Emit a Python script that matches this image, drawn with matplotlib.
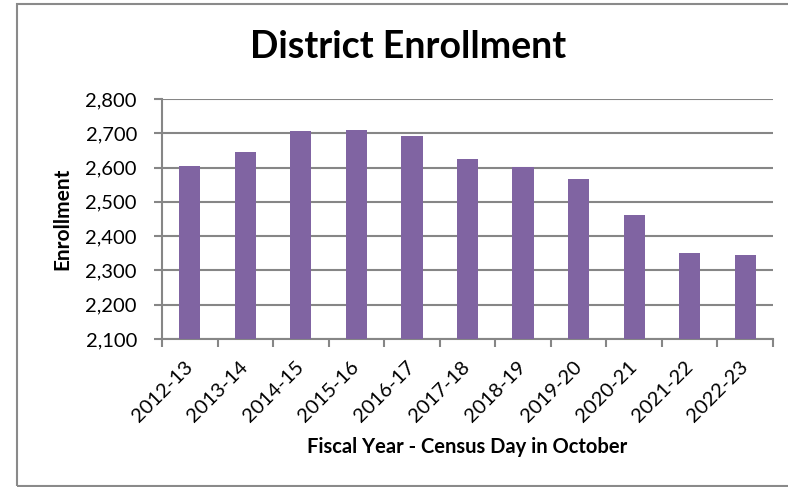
import matplotlib.pyplot as plt
from matplotlib.patches import Rectangle
from matplotlib.ticker import FuncFormatter

years = ['2012-13', '2013-14', '2014-15', '2015-16', '2016-17', '2017-18',
         '2018-19', '2019-20', '2020-21', '2021-22', '2022-23']
enrollment = [2606, 2644, 2706, 2710, 2693, 2625, 2601, 2568, 2462, 2350, 2344]

plt.rcParams['font.family'] = ['Lato', 'DejaVu Sans']
grid_col = '#868686'
bar_col = '#8064A2'

fig = plt.figure(figsize=(7.88, 4.87), dpi=100)
# outer chart border
fig.patches.append(Rectangle((17 / 788, 1 - 486 / 487), 1.0, 482 / 487,
                             transform=fig.transFigure, fill=False,
                             edgecolor='#8a8a8a', linewidth=1.5))

ax = fig.add_axes([162 / 788, 1 - 339 / 487, (773 - 162) / 788, (339 - 99) / 487])
x = range(len(years))
ax.bar(x, enrollment, width=0.38, color=bar_col, zorder=3)
ax.set_ylim(2100, 2800)
ax.set_xlim(-0.5, len(years) - 0.5)
ax.set_yticks(range(2100, 2801, 100))
ax.yaxis.set_major_formatter(FuncFormatter(lambda v, p: f'{int(v):,}'))
ax.set_xticks([i - 0.5 for i in range(len(years) + 1)])
ax.set_xticklabels([])
ax.set_xticks(list(x), minor=True)
ax.set_xticklabels(years, minor=True, rotation=45, ha='right', va='center',
                   rotation_mode='anchor', fontsize=14.5)
ax.tick_params(axis='x', which='minor', length=0, pad=18)
ax.tick_params(axis='x', which='major', length=6, color=grid_col, width=1.5)
ax.tick_params(axis='y', length=6, color=grid_col, width=1.5, labelsize=14.5, pad=12)

ax.grid(axis='y', color=grid_col, linewidth=1.5, zorder=0)
for s in ['top', 'right']:
    ax.spines[s].set_visible(False)
for s in ['left', 'bottom']:
    ax.spines[s].set_color(grid_col)
    ax.spines[s].set_linewidth(1.5)

ax.set_ylabel('Enrollment', fontsize=15, fontweight='bold', va='center')
ax.yaxis.set_label_coords((62 - 162) / 611, 0.5)
ax.set_xlabel('Fiscal Year - Census Day in October', fontsize=14.5,
              fontweight='bold', va='center')
ax.xaxis.set_label_coords(0.5, (339 - 447) / 240)
fig.text(408 / 788, 1 - 47 / 487, 'District Enrollment', fontsize=27,
         fontweight='bold', ha='center', va='center')

fig.savefig('out.png', dpi=100)
